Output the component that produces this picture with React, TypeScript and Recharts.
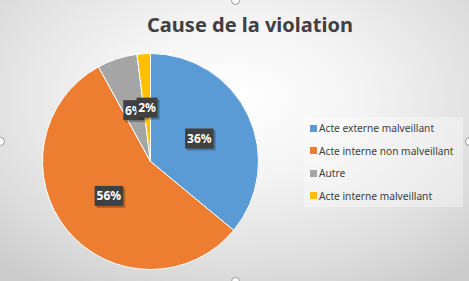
import { Legend, Pie, PieChart } from "recharts";

const causes = [
  "Acte externe malveillant",
  "Acte interne non malveillant",
  "Autre",
  "Acte interne malveillant",
];
const shares = [36, 56, 6, 2];
const colors = ["#5B9BD5", "#ED7D31", "#A5A5A5", "#FFC000"];

const data = causes.map((name, i) => ({ name, value: shares[i], fill: colors[i] }));

const RADIAN = Math.PI / 180;
const FONT = "'Noto Sans', 'Open Sans', sans-serif";

function PctLabel(props: any) {
  const { cx, cy, midAngle, outerRadius, percent } = props;
  const r = outerRadius * 0.5;
  const x = cx + r * Math.cos(-midAngle * RADIAN);
  const y = cy + r * Math.sin(-midAngle * RADIAN);
  const text = `${Math.round(percent * 100)}%`;
  const w = text.length * 7.5 + 6;
  const h = 20;
  return (
    <g>
      <rect x={x - w / 2 + 2} y={y - h / 2 + 2} width={w} height={h} fill="rgba(0,0,0,0.25)" />
      <rect x={x - w / 2} y={y - h / 2} width={w} height={h} fill="#404040" />
      <text
        x={x}
        y={y}
        textAnchor="middle"
        dominantBaseline="central"
        fill="#fff"
        fontSize={12}
        fontWeight="bold"
        fontFamily={FONT}
      >
        {text}
      </text>
    </g>
  );
}

function LegendBox() {
  return (
    <div
      style={{
        width: 159,
        height: 90,
        background: "rgba(255,255,255,0.35)",
        boxSizing: "border-box",
        padding: "0 0 0 6px",
        fontFamily: FONT,
        fontSize: 10.2,
        color: "#404040",
      }}
    >
      {causes.map((c, i) => (
        <div key={c} style={{ display: "flex", alignItems: "center", height: 22.5 }}>
          <span
            style={{ width: 7, height: 7, background: colors[i], marginRight: 2, display: "inline-block" }}
          />
          <span>{c}</span>
        </div>
      ))}
    </div>
  );
}

const handle = (left: number, top: number) => (
  <div
    style={{
      position: "absolute",
      left: left - 4,
      top: top - 4,
      width: 7,
      height: 7,
      borderRadius: "50%",
      border: "1px solid #999",
      background: "#fff",
    }}
  />
);

export default function App() {
  return (
    <div
      style={{
        position: "absolute",
        left: 0,
        top: 0,
        width: 469,
        height: 281,
        overflow: "hidden",
        background:
          "radial-gradient(ellipse 75% 80% at 50% 35%, #ffffff 0%, #f4f4f4 35%, #dedede 75%, #cccccc 100%)",
      }}
    >
      <div
        style={{
          position: "absolute",
          left: 0,
          top: 11,
          width: 500,
          textAlign: "center",
          fontFamily: FONT,
          fontWeight: "bold",
          fontSize: 20,
          color: "#404040",
        }}
      >
        Cause de la violation
      </div>
      <PieChart
        width={469}
        height={281}
        margin={{ top: 0, right: 0, bottom: 0, left: 0 }}
        style={{ position: "absolute", left: 0, top: 0 }}
      >
        <Pie
          data={data}
          dataKey="value"
          nameKey="name"
          cx={150.5}
          cy={161.5}
          outerRadius={108}
          startAngle={90}
          endAngle={-270}
          stroke="#ffffff"
          strokeWidth={1}
          label={PctLabel}
          labelLine={false}
          isAnimationActive={false}
        />
        <Legend
          content={() => <LegendBox />}
          wrapperStyle={{ position: "absolute", left: 304, top: 117, width: 159, height: 90 }}
        />
      </PieChart>
      {handle(235, 0)}
      {handle(0, 141)}
      {handle(469, 141)}
      {handle(235, 281)}
    </div>
  );
}
